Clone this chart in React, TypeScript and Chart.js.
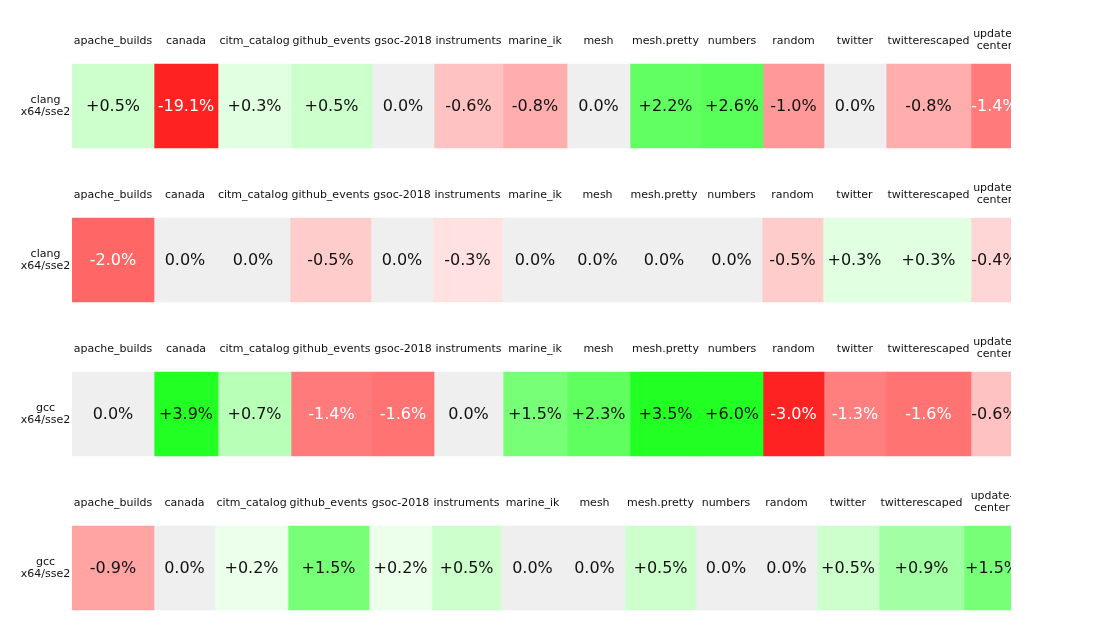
import React, { useEffect, useRef } from "react";
import { Chart, registerables } from "chart.js";

Chart.register(...registerables);

const benchmarks = [
  "apache_builds", "canada", "citm_catalog", "github_events", "gsoc-2018",
  "instruments", "marine_ik", "mesh", "mesh.pretty", "numbers", "random",
  "twitter", "twitterescaped", "update-center",
];

const rowLabels = [
  ["clang", "x64/sse2"],
  ["clang", "x64/sse2"],
  ["gcc", "x64/sse2"],
  ["gcc", "x64/sse2"],
];

// percent change per benchmark, one array per row
const clangRow1 = [0.5, -19.1, 0.3, 0.5, 0.0, -0.6, -0.8, 0.0, 2.2, 2.6, -1.0, 0.0, -0.8, -1.4];
const clangRow2 = [-2.0, 0.0, 0.0, -0.5, 0.0, -0.3, 0.0, 0.0, 0.0, 0.0, -0.5, 0.3, 0.3, -0.4];
const gccRow1 = [0.0, 3.9, 0.7, -1.4, -1.6, 0.0, 1.5, 2.3, 3.5, 6.0, -3.0, -1.3, -1.6, -0.6];
const gccRow2 = [-0.9, 0.0, 0.2, 1.5, 0.2, 0.5, 0.0, 0.0, 0.5, 0.0, 0.0, 0.5, 0.9, 1.5];

// relative cell widths per row (table column widths)
const widthsRow1 = [82, 64, 73, 81, 62, 69, 64, 63, 71, 62, 61, 62, 85, 47];
const widthsRow2 = [82, 62, 74, 81, 62, 69, 66, 59, 74, 61, 61, 63, 85, 47];
const widthsRow3 = [82, 64, 73, 81, 62, 69, 64, 63, 71, 62, 61, 62, 85, 47];
const widthsRow4 = [82, 61, 73, 81, 63, 69, 63, 61, 71, 60, 61, 62, 85, 56];

const rows = [clangRow1, clangRow2, gccRow1, gccRow2];
const rowWidths = [widthsRow1, widthsRow2, widthsRow3, widthsRow4];
const visibleTotal = 939;

const FONT = "'DejaVu Sans', 'Liberation Sans', sans-serif";

const dropTable: [number, number][] = [
  [0, 0], [0.2, 20], [0.5, 51], [1, 102], [1.3, 128], [1.6, 140],
  [2, 152], [2.6, 167], [2.99, 175], [3, 221], [100, 221],
];

function drop(a: number): number {
  for (let i = 1; i < dropTable.length; i++) {
    const [x1, y1] = dropTable[i];
    const [x0, y0] = dropTable[i - 1];
    if (a <= x1) return y0 + ((a - x0) / (x1 - x0)) * (y1 - y0);
  }
  return 221;
}

function cellColor(v: number): string {
  if (v === 0) return "#efefef";
  const c = Math.round(255 - drop(Math.abs(v)));
  return v > 0 ? `rgb(${c},255,${c})` : `rgb(255,${c},${c})`;
}

function textColor(v: number): string {
  return v <= -1.25 ? "#ffffff" : "#111111";
}

function fmt(v: number): string {
  if (v === 0) return "0.0%";
  return (v > 0 ? "+" : "") + v.toFixed(1) + "%";
}

const labelPlugin = {
  id: "cellLabels",
  afterDatasetsDraw(chart: any) {
    const ctx = chart.ctx;
    const area = chart.chartArea;
    ctx.save();
    ctx.beginPath();
    ctx.rect(0, 0, area.right, chart.height);
    ctx.clip();
    ctx.textAlign = "center";
    ctx.textBaseline = "middle";
    chart.data.datasets.forEach((ds: any, i: number) => {
      const meta = chart.getDatasetMeta(i);
      meta.data.forEach((el: any, r: number) => {
        const left = Math.min(el.base, el.x);
        const right = Math.max(el.base, el.x);
        const cx = (left + right) / 2;
        const top = el.y - el.height / 2;
        const v = rows[r][i];
        ctx.font = `16px ${FONT}`;
        ctx.fillStyle = textColor(v);
        ctx.fillText(fmt(v), cx, el.y + 1);
        ctx.font = `11px ${FONT}`;
        ctx.fillStyle = "#111111";
        const name = benchmarks[i];
        if (name === "update-center") {
          ctx.fillText("update-", cx, top - 29.5);
          ctx.fillText("center", cx, top - 17.5);
        } else {
          ctx.fillText(name, cx, top - 23);
        }
      });
    });
    ctx.restore();
    ctx.save();
    ctx.font = `11px ${FONT}`;
    ctx.fillStyle = "#111111";
    ctx.textAlign = "center";
    ctx.textBaseline = "middle";
    const yScale = chart.scales.y;
    rowLabels.forEach((lines, r) => {
      const y = yScale.getPixelForValue(r);
      ctx.fillText(lines[0], 45.5, y - 6);
      ctx.fillText(lines[1], 45.5, y + 6);
    });
    ctx.restore();
  },
};

export default function App() {
  const ref = useRef<HTMLCanvasElement | null>(null);
  useEffect(() => {
    if (!ref.current) return;
    const datasets = benchmarks.map((name, i) => ({
      label: name,
      data: rowWidths.map((w) => w[i]),
      backgroundColor: rows.map((row) => cellColor(row[i])),
      borderWidth: 0,
      barThickness: 84,
      clip: { left: 0, right: 0, top: false, bottom: false } as any,
    }));
    const chart = new Chart(ref.current, {
      type: "bar",
      data: { labels: ["r0", "r1", "r2", "r3"], datasets },
      options: {
        indexAxis: "y",
        animation: false,
        responsive: false,
        maintainAspectRatio: false,
        layout: { padding: { left: 72, right: 89, top: 106, bottom: 72 } },
        plugins: { legend: { display: false }, tooltip: { enabled: false } },
        scales: {
          x: { type: "linear", stacked: true, min: 0, max: visibleTotal, display: false },
          y: { type: "category", stacked: true, offset: false, display: false },
        },
      },
      plugins: [labelPlugin],
    } as any);
    return () => chart.destroy();
  }, []);
  return (
    <div style={{ position: "absolute", left: 0, top: 0, width: 1100, height: 640, background: "#fff" }}>
      <canvas ref={ref} width={1100} height={640} style={{ display: "block" }} />
    </div>
  );
}
